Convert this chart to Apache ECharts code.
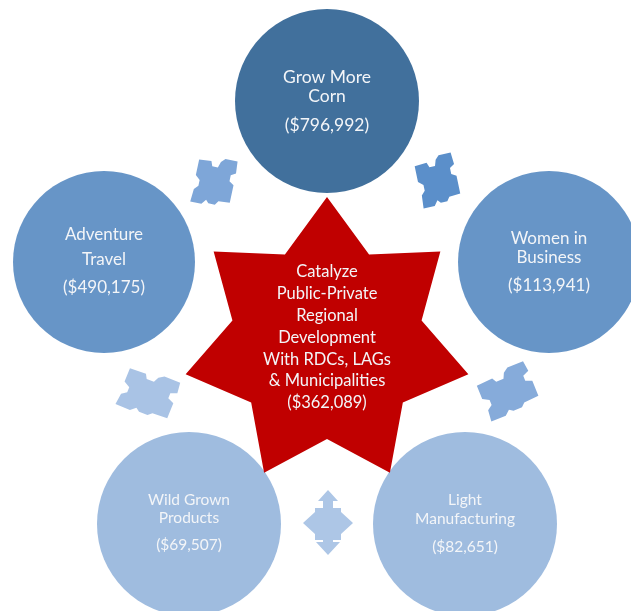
<!DOCTYPE html>
<html>
<head>
<meta charset="utf-8">
<script src="https://cdn.jsdelivr.net/npm/echarts@6/dist/echarts.min.js"></script>
<style>
  html, body { margin: 0; padding: 0; background: #ffffff; }
  #chart { width: 631px; height: 611px; }
</style>
</head>
<body>
<div id="chart"></div>
<script>
// Programme areas around the hub, with their funding (USD)
const programmeLines = [
  ['Grow More', 'Corn'],
  ['Women in', 'Business'],
  ['Light', 'Manufacturing'],
  ['Wild Grown', 'Products'],
  ['Adventure', 'Travel']
];
const programmeFunding = [796992, 113941, 82651, 69507, 490175];

// Central hub
const hubLines = ['Catalyze', 'Public-Private', 'Regional', 'Development', 'With RDCs, LAGs', '& Municipalities'];
const hubFunding = 362089;

// ---- layout & styling (page pixel space) ----
const circleCenters = [[327, 101], [549, 262], [465, 524], [189, 524], [104, 262]];
const circleRadius = [92, 91, 92, 92, 91];
const circleColors = ['#41709c', '#6795c7', '#9fbcdf', '#9fbcdf', '#6795c7'];
// y offsets of the two title lines and the amount line, and font size
const circleText = [
  { lines: [-24, -5], amount: 24, size: 17.5 },
  { lines: [-23, -4], amount: 24, size: 17 },
  { lines: [-24, -5], amount: 23, size: 15.5 },
  { lines: [-24, -6], amount: 21, size: 15.5 },
  { lines: [-27, -2], amount: 26, size: 17 }
];
const starCenter = [327, 342];
const starOuter = 145, starInner = 97, starPoints = 7;
const starColor = '#c00000';
const hubTextTop = 272, hubLineStep = 21.8, hubFontSize = 16.5;

const FONT = 'Lato, "Open Sans", sans-serif';
const TEXT_FILL = '#f3f5f8';

// Connector glyphs between the circles: a notched tile and a four-way arrow
const puzzle = [[-20,-18],[-7,-19],[-5,-14],[1,-14],[3,-20],[7,-24],[20,-24],[21,-12],[16,-9],[16,-3],[21,0],[21,18],[9,19],[6,23],[-1,23],[-4,20],[-8,25],[-20,25],[-19,12],[-15,8],[-15,2],[-20,-2]];
const quadArrow = [[0,-32],[10,-21],[5,-21],[5,-14],[13,-14],[13,-10],[25,1],[13,12],[13,18],[5,18],[5,20],[12,20],[0,33],[-12,20],[-5,20],[-5,18],[-13,18],[-13,12],[-25,1],[-13,-10],[-13,-14],[-5,-14],[-5,-21],[-10,-21]];
const connectors = [
  { at: [214, 181], shape: puzzle, sx: 0.95, sy: 1.0, rot: 12, color: '#7ea6d8' },
  { at: [437, 180], shape: puzzle, sx: 0.95, sy: 1.0, rot: -12, color: '#5b8fca' },
  { at: [148, 393], shape: puzzle, sx: 1.3, sy: 0.9, rot: 22, color: '#a9c3e5' },
  { at: [507, 391], shape: puzzle, sx: 1.3, sy: 0.9, rot: -22, color: '#86abda' },
  { at: [328, 522], shape: quadArrow, sx: 1.0, sy: 1.0, rot: 0, color: '#adc6e6' }
];

const money = v => '($' + v.toLocaleString('en-US') + ')';

function textEl(x, y, str, size) {
  return {
    type: 'text', x: x, y: y,
    style: { text: str, fill: TEXT_FILL, fontFamily: FONT, fontSize: size, align: 'center', verticalAlign: 'middle' }
  };
}

const chart = echarts.init(document.getElementById('chart'));
chart.setOption({
  backgroundColor: '#ffffff',
  animation: false,
  grid: { left: 0, right: 0, top: 0, bottom: 0 },
  xAxis: { type: 'value', min: 0, max: 631, show: false },
  yAxis: { type: 'value', min: 0, max: 611, inverse: true, show: false },
  series: [
    {
      // connector glyphs
      type: 'custom', coordinateSystem: 'cartesian2d', silent: true,
      data: connectors.map(c => c.at),
      renderItem(params, api) {
        const c = connectors[params.dataIndex];
        const p = api.coord([api.value(0), api.value(1)]);
        const a = c.rot * Math.PI / 180, cs = Math.cos(a), sn = Math.sin(a);
        const pts = c.shape.map(([x, y]) => {
          const X = x * c.sx, Y = y * c.sy;
          return [p[0] + X * cs - Y * sn, p[1] + X * sn + Y * cs];
        });
        return { type: 'polygon', shape: { points: pts }, style: { fill: c.color } };
      }
    },
    {
      // programme circles
      type: 'custom', coordinateSystem: 'cartesian2d', silent: true,
      data: circleCenters,
      renderItem(params, api) {
        const i = params.dataIndex;
        const p = api.coord([api.value(0), api.value(1)]);
        const r = api.size([circleRadius[i], 0])[0];
        const t = circleText[i];
        const children = [{ type: 'circle', shape: { cx: p[0], cy: p[1], r: r }, style: { fill: circleColors[i] } }];
        programmeLines[i].forEach((ln, k) => children.push(textEl(p[0], p[1] + t.lines[k], ln, t.size)));
        children.push(textEl(p[0], p[1] + t.amount, money(programmeFunding[i]), t.size));
        return { type: 'group', children: children };
      }
    },
    {
      // central seven-pointed star
      type: 'custom', coordinateSystem: 'cartesian2d', silent: true,
      data: [starCenter],
      renderItem(params, api) {
        const p = api.coord([api.value(0), api.value(1)]);
        const ro = api.size([starOuter, 0])[0], ri = api.size([starInner, 0])[0];
        const pts = [];
        for (let k = 0; k < starPoints * 2; k++) {
          const ang = -Math.PI / 2 + k * Math.PI / starPoints;
          const rr = k % 2 === 0 ? ro : ri;
          pts.push([p[0] + rr * Math.cos(ang), p[1] + rr * Math.sin(ang)]);
        }
        const children = [{ type: 'polygon', shape: { points: pts }, style: { fill: starColor } }];
        const lines = hubLines.concat([money(hubFunding)]);
        lines.forEach((ln, k) => children.push(textEl(p[0], hubTextTop + k * hubLineStep, ln, hubFontSize)));
        return { type: 'group', children: children };
      }
    }
  ]
});
</script>
</body>
</html>
